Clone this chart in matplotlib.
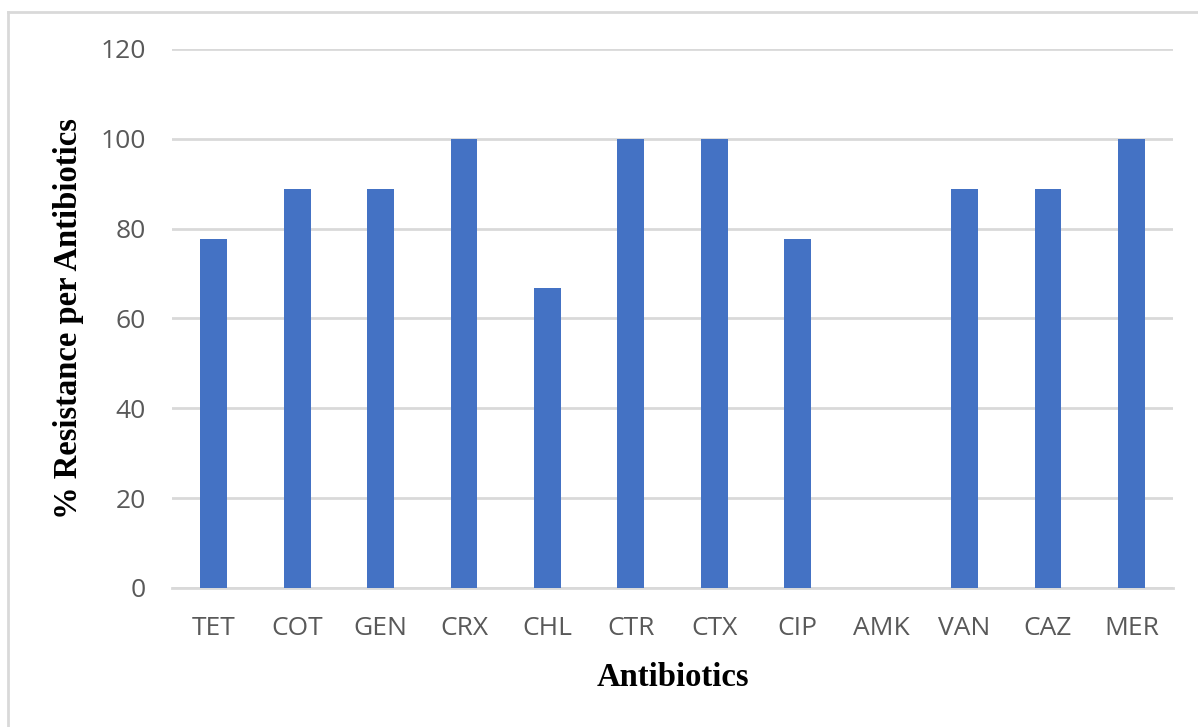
import matplotlib.pyplot as plt
import numpy as np

# data
antibiotics = ['TET', 'COT', 'GEN', 'CRX', 'CHL', 'CTR', 'CTX', 'CIP', 'AMK', 'VAN', 'CAZ', 'MER']
resistance = [77.8, 88.9, 88.9, 100, 66.7, 100, 100, 77.8, 0, 88.9, 88.9, 100]
y_ticks = [0, 20, 40, 60, 80, 100, 120]

fig = plt.figure(figsize=(11.98, 7.27), dpi=100)
ax = fig.add_axes([0.1436, 0.1912, 0.8356, 0.7414])

x = np.arange(len(antibiotics))
ax.bar(x, resistance, width=0.32, color='#4472C4', zorder=3)

ax.set_xlim(-0.5, len(antibiotics) - 0.5)
ax.set_ylim(0, 120)
ax.set_yticks(y_ticks)
ax.set_xticks(x)
ax.set_xticklabels(antibiotics)
ax.grid(axis='y', color='#d9d9d9', linewidth=2, zorder=0)
ax.tick_params(axis='both', length=0, labelsize=19, labelcolor='#595959')
ax.tick_params(axis='y', pad=19)
ax.tick_params(axis='x', pad=20)
for lbl in ax.get_xticklabels() + ax.get_yticklabels():
    lbl.set_fontfamily('Open Sans')

for side in ['top', 'right', 'left']:
    ax.spines[side].set_visible(False)
ax.spines['bottom'].set_color('#d9d9d9')
ax.spines['bottom'].set_linewidth(2)

ax.set_xlabel('Antibiotics', fontsize=23.5, fontweight='bold', family='Liberation Serif', labelpad=15)
ax.set_ylabel('% Resistance per Antibiotics', fontsize=23.5, fontweight='bold', family='Liberation Serif', labelpad=12)

# light frame at top and left like the original chart box
fig.add_artist(plt.Line2D([8 / 1198, 1.0], [1 - 12 / 727] * 2, transform=fig.transFigure, color='#d9d9d9', linewidth=2))
fig.add_artist(plt.Line2D([8 / 1198] * 2, [0, 1 - 12 / 727], transform=fig.transFigure, color='#d9d9d9', linewidth=2))

fig.savefig('out.png', dpi=100)
